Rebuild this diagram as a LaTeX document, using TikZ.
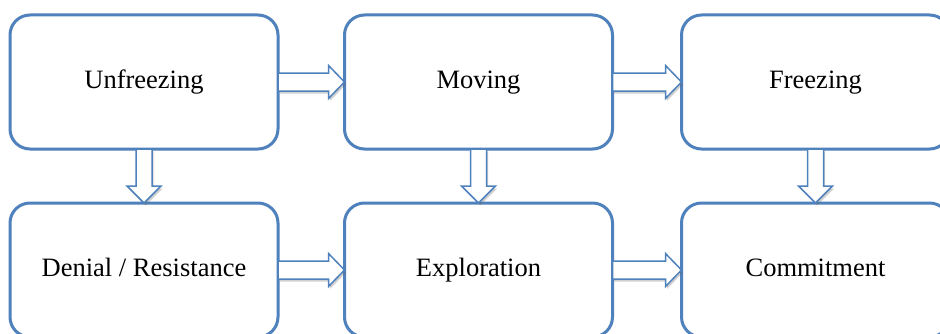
\documentclass[tikz,border=0pt]{standalone}
\usepackage{fontspec}
\setmainfont{Liberation Serif}
\usetikzlibrary{calc,shadows}
\definecolor{boxblue}{HTML}{4F81BD}
\begin{document}
\begin{tikzpicture}[x=1pt,y=1pt,
  stagebox/.style={draw=boxblue, line width=3pt, rounded corners=20pt, fill=white,
    minimum width=268pt, minimum height=134pt, inner sep=0pt, outer sep=0pt,
    text height=18pt, text depth=6pt,
    font=\fontsize{26.5}{30}\selectfont},
  blockarrow/.style={draw=boxblue, line width=1.5pt, fill=white, line join=miter,
    drop shadow={shadow xshift=1.5pt, shadow yshift=-2.5pt, opacity=0.3, fill=black!60}}
]
\clip (0,0) rectangle (940,333);
\fill[white] (0,0) rectangle (940,333);
\node[stagebox] (unf) at (144,251) {Unfreezing};
\node[stagebox] (mov) at (478.5,251) {Moving};
\node[stagebox] (frz) at (815.5,251) {Freezing};
\node[stagebox] (den) at (144,63) {Denial / Resistance};
\node[stagebox] (exp) at (478.5,63) {Exploration};
\node[stagebox] (com) at (815.5,63) {Commitment};
% horizontal block arrows
\foreach \a/\b in {unf/mov, mov/frz, den/exp, exp/com}{
  \draw[blockarrow] let \p1=(\a.east), \p2=(\b.west) in
    (\x1,\y1+9) -- (\x2-16,\y1+9) -- (\x2-16,\y1+16.5) -- (\x2,\y1)
    -- (\x2-16,\y1-16.5) -- (\x2-16,\y1-9) -- (\x1,\y1-9) -- cycle;
}
% vertical block arrows
\foreach \a/\b in {unf/den, mov/exp, frz/com}{
  \draw[blockarrow] let \p1=(\a.south), \p2=(\b.north) in
    (\x1-8,\y1) -- (\x1-8,\y2+17) -- (\x1-17,\y2+17) -- (\x1,\y2)
    -- (\x1+17,\y2+17) -- (\x1+8,\y2+17) -- (\x1+8,\y1) -- cycle;
}
\end{tikzpicture}
\end{document}
